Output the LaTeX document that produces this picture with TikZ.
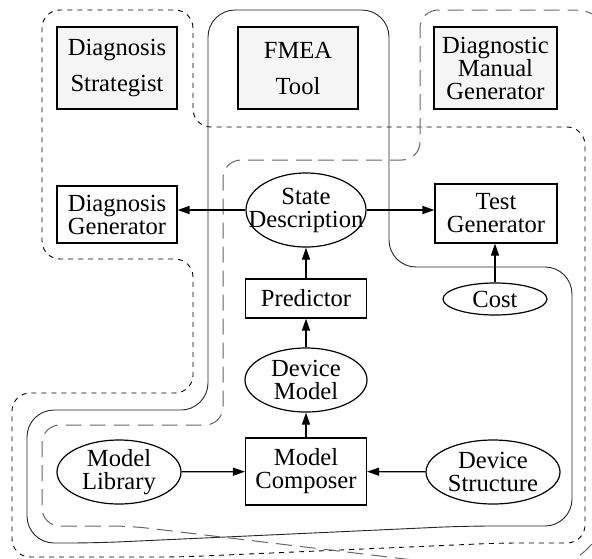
\documentclass[tikz,border=0pt]{standalone}
\usepackage{fontspec}
\setmainfont{Liberation Serif}
\usetikzlibrary{shapes.geometric,arrows.meta}
\newcommand\diagfont{\fontsize{24.6pt}{23pt}\selectfont}
\begin{document}
\begin{tikzpicture}[x=1pt,y=-1pt,
  box/.style={draw, line width=1.2pt, rectangle, inner sep=0pt, align=center, font=\diagfont},
  gbox/.style={box, fill=black!4},
  ell/.style={draw, line width=1.2pt, ellipse, inner sep=0pt},
  lbl/.style={align=center, font=\diagfont, inner sep=0pt},
  arr/.style={line width=1.2pt, -{Triangle[length=12pt,width=8pt]}},
  grpA/.style={line width=0.9pt, dash pattern=on 5pt off 5pt},
  grpB/.style={line width=0.9pt, black!85},
  grpC/.style={line width=1pt, black!60, dash pattern=on 16pt off 8pt},
]
\useasboundingbox (0,0) rectangle (592,558);
\clip (0,0) rectangle (592,558);

% group outlines
\draw[grpA, rounded corners=18pt] (100,10) -- (193,10) -- (193,127) -- (585,127) -- (585,543)
  -- (500,543) -- (180,557) -- (12,557) -- (12,393) -- (193,393) -- (193,259) -- (42,259)
  -- (42,10) -- cycle;
\draw[grpB, rounded corners=27pt] (300,10) -- (389,10) -- (389,267) -- (572,267) -- (572,526)
  -- (465,526) -- (95,543) -- (27,543) -- (27,410) -- (208,410) -- (208,10) -- cycle;
\draw[grpC, rounded corners=18pt] (300,160) -- (420,160) -- (420,10) -- (560,10)
  [rounded corners=40pt] -- (615,10) -- (615,525) [rounded corners=18pt]
  -- (555,577) -- (130,526) -- (42,526) -- (42,425) -- (223,425) -- (223,160) -- cycle;

% nodes
\node[gbox, minimum width=120pt, minimum height=82pt] (ds) at (117,68) {Diagnosis\\[13pt]Strategist};
\node[gbox, minimum width=120pt, minimum height=82pt] (fmea) at (298,68) {FMEA\\[13pt]Tool};
\node[gbox, minimum width=123pt, minimum height=82pt] (dmg) at (495.5,68) {Diagnostic\\Manual\\Generator};
\node[box, minimum width=120pt, minimum height=57pt] (dg) at (117,214.5) {Diagnosis\\Generator};
\node[ell, minimum width=120pt, minimum height=74pt, label={[lbl]center:State\\Description}] (td) at (306,210) {};
\node[box, minimum width=122pt, minimum height=59pt] (tg) at (496,213.5) {Test\\Generator};
\node[box, minimum width=121pt, minimum height=39pt] (pred) at (306,298.5) {Predictor};
\node[ell, minimum width=104pt, minimum height=32pt, label={[lbl]center:Cost}] (cost) at (495,299) {};
\node[ell, minimum width=122pt, minimum height=64pt, label={[lbl]center:Device\\Model}] (dm) at (306,380) {};
\node[box, minimum width=121pt, minimum height=67pt] (mc) at (306,471.5) {Model\\Composer};
\node[ell, minimum width=124pt, minimum height=64pt, label={[lbl]center:Model\\Library}] (ml) at (119,472) {};
\node[ell, minimum width=134pt, minimum height=64pt, label={[lbl]center:Device\\Structure}] (dstr) at (493,472) {};

% connectors
\draw[arr] (td.west) -- (td.west -| dg.east);
\draw[arr] (td.east) -- (td.east -| tg.west);
\draw[arr] (pred) -- (td);
\draw[arr] (cost.north) -- (cost.north |- tg.south);
\draw[arr] (dm) -- (pred);
\draw[arr] (mc) -- (dm);
\draw[arr] (ml) -- (mc);
\draw[arr] (dstr) -- (mc);
\end{tikzpicture}
\end{document}
